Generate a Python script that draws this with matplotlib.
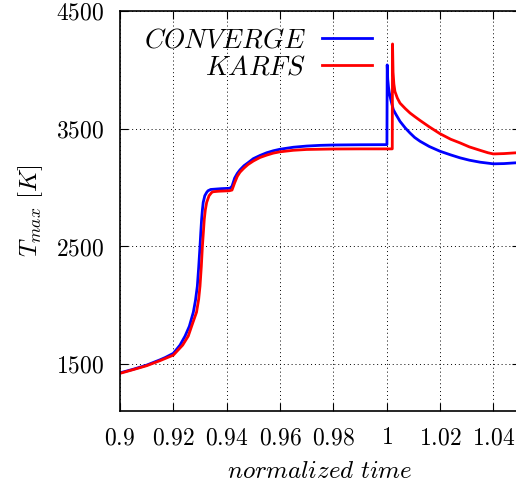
import matplotlib
matplotlib.use("Agg")
import matplotlib.pyplot as plt

plt.rcParams['mathtext.fontset'] = 'cm'
plt.rcParams['font.family'] = ['DejaVu Serif']

conv_t = [0.900, 0.905, 0.910, 0.915, 0.917, 0.920, 0.9225, 0.9244, 0.926, 0.9275,
          0.9283, 0.929, 0.9295, 0.930, 0.9303, 0.9306, 0.9309, 0.9312, 0.9318, 0.9325,
          0.933, 0.934, 0.938, 0.9412, 0.942, 0.943, 0.944, 0.945, 0.9465, 0.948,
          0.950, 0.9525, 0.955, 0.9575, 0.960, 0.965, 0.970, 0.975, 0.980, 0.990,
          1.0001, 1.0002, 1.0004, 1.0007, 1.001, 1.0015, 1.0025, 1.0035, 1.005, 1.007,
          1.00875, 1.0105, 1.0125, 1.016, 1.020, 1.024, 1.0275, 1.031, 1.035, 1.040,
          1.044, 1.048, 1.050]
conv_T = [1424, 1455, 1490, 1535, 1555, 1590, 1660, 1737, 1820, 1940,
          2040, 2161, 2320, 2500, 2620, 2729, 2810, 2873, 2930, 2958,
          2972, 2983, 2990, 2993, 3010, 3080, 3120, 3150, 3185, 3210,
          3245, 3272, 3295, 3312, 3325, 3342, 3352, 3358, 3361, 3363,
          3364, 4042, 3920, 3850, 3805, 3750, 3661, 3620, 3562, 3505,
          3463, 3425, 3393, 3348, 3308, 3277, 3252, 3232, 3215, 3201,
          3203, 3209, 3211]

karfs_t = [0.900, 0.905, 0.910, 0.915, 0.920, 0.9235, 0.9256, 0.927, 0.9287, 0.9295,
           0.930, 0.9305, 0.9309, 0.9313, 0.9316, 0.932, 0.9325, 0.9334, 0.9344, 0.935,
           0.937, 0.941, 0.942, 0.943, 0.944, 0.945, 0.9465, 0.948, 0.950, 0.9525,
           0.955, 0.9575, 0.960, 0.965, 0.970, 0.980, 0.990, 1.0021,
           1.0022, 1.0024, 1.0027, 1.0031, 1.004, 1.005, 1.007, 1.00875, 1.0105, 1.0125,
           1.016, 1.020, 1.024, 1.0275, 1.031, 1.035, 1.038, 1.040, 1.044, 1.048,
           1.050]
karfs_T = [1420, 1452, 1485, 1528, 1575, 1660, 1737, 1830, 1940, 2050,
           2161, 2330, 2500, 2630, 2729, 2810, 2873, 2930, 2958, 2964,
           2968, 2972, 2978, 3040, 3095, 3130, 3165, 3195, 3225, 3255,
           3275, 3292, 3303, 3316, 3323, 3327, 3328, 3328,
           4220, 3980, 3880, 3816, 3760, 3717, 3670, 3633, 3603, 3570,
           3515, 3457, 3410, 3379, 3345, 3316, 3295, 3285, 3288, 3294,
           3296]

xticks = [0.9, 0.92, 0.94, 0.96, 0.98, 1.0, 1.02, 1.04]
xticklabels = ['0.9', '0.92', '0.94', '0.96', '0.98', '1', '1.02', '1.04']
yticks = [1500, 2500, 3500, 4500]
yticklabels = ['1500', '2500', '3500', '4500']

fig = plt.figure(figsize=(5.16, 4.88), dpi=100)
ax = fig.add_axes([120/516, 1-411/488, 400/516, 400/488])

ax.plot(conv_t, conv_T, color='#0000ff', lw=2.0, label=r'$CONVERGE$')
ax.plot(karfs_t, karfs_T, color='#ff0000', lw=2.0, label=r'$KARFS$')

ax.set_xlim(0.9, 1.05)
ax.set_ylim(1100, 4500)
ax.set_xticks(xticks)
ax.set_xticklabels(['$' + s + '$' for s in xticklabels], fontsize=17)
ax.set_yticks(yticks)
ax.set_yticklabels(['$' + s + '$' for s in yticklabels], fontsize=17)
ax.tick_params(direction='in', length=6, width=0.8, top=True, right=True, pad=11)
ax.grid(True, color='black', linestyle=(0, (1, 3)), linewidth=0.7)
for s in ax.spines.values():
    s.set_linewidth(1.2)

ax.set_xlabel(r'$normalized\ time$', fontsize=18, labelpad=8)
ax.set_ylabel(r'$T_{max}\ [K]$', fontsize=18, labelpad=8)

leg = ax.legend(loc='upper right', bbox_to_anchor=((386-120)/400, 1-(13-11)/400),
                frameon=False, borderpad=0, markerfirst=False, fontsize=19.5,
                handlelength=1.85, handletextpad=0.62, labelspacing=0.0)
for t in leg.get_texts():
    t.set_ha('right')

fig.savefig('out.png', dpi=100)
